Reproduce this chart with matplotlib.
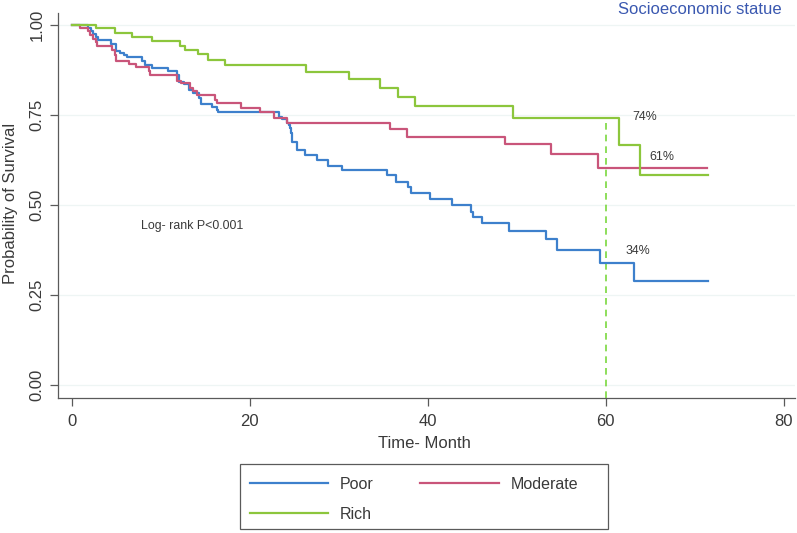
import matplotlib
matplotlib.use("Agg")
import matplotlib.pyplot as plt
from matplotlib.patches import Rectangle

plt.rcParams['font.family'] = ['Liberation Sans', 'DejaVu Sans']

# ---- data (Kaplan-Meier steps) ----
groups = ["Poor", "Moderate", "Rich"]

poor_t = [0, 1.9, 2.2, 2.4, 2.7, 3.0, 4.4, 5.0, 5.5, 5.85, 6.2, 7.9, 8.3, 9.0, 10.8,
          11.85, 12.1, 12.6, 13.2, 13.7, 14.3, 14.5, 15.8, 16.35, 16.5, 23.3, 23.6,
          24.2, 24.4, 24.5, 24.7, 24.8, 25.35, 26.2, 27.6, 28.85, 30.35, 35.45, 36.45,
          37.8, 38.1, 40.3, 42.75, 44.85, 45.1, 46.1, 49.1, 53.35, 54.6, 59.4, 63.2, 71.5]
poor_s = [1.0, 0.993, 0.984, 0.975, 0.966, 0.957, 0.947, 0.927, 0.922, 0.916, 0.910,
          0.899, 0.890, 0.881, 0.871, 0.862, 0.843, 0.836, 0.820, 0.811, 0.797, 0.781,
          0.771, 0.765, 0.757, 0.745, 0.739, 0.727, 0.722, 0.713, 0.699, 0.676, 0.653,
          0.639, 0.625, 0.609, 0.596, 0.583, 0.565, 0.551, 0.532, 0.518, 0.500, 0.481,
          0.467, 0.449, 0.429, 0.406, 0.375, 0.338, 0.290, 0.290]

mod_t = [0, 1.0, 1.85, 2.1, 2.4, 2.7, 2.9, 4.5, 4.85, 5.0, 6.5, 7.2, 8.7, 8.85, 11.9,
         12.3, 13.3, 13.7, 14.1, 16.1, 16.35, 19.1, 21.2, 22.8, 24.2, 35.8, 37.65,
         48.75, 53.9, 59.1, 71.4]
mod_s = [1.0, 0.992, 0.984, 0.973, 0.962, 0.953, 0.941, 0.931, 0.918, 0.901, 0.892,
         0.882, 0.871, 0.860, 0.845, 0.839, 0.825, 0.816, 0.805, 0.792, 0.782, 0.769,
         0.757, 0.743, 0.728, 0.710, 0.690, 0.669, 0.642, 0.602, 0.602]

rich_t = [0, 2.75, 4.9, 6.8, 9.0, 12.2, 12.75, 14.2, 15.3, 17.3, 26.3, 31.2, 34.65,
          36.7, 38.6, 49.6, 61.5, 63.9, 71.5]
rich_s = [1.0, 0.991, 0.979, 0.968, 0.956, 0.943, 0.931, 0.919, 0.903, 0.889, 0.870,
          0.849, 0.826, 0.801, 0.775, 0.741, 0.667, 0.583, 0.583]

mark_time = 60
mark_labels = ["34%", "61%", "74%"]
mark_pos = [(62.2, 0.373), (64.9, 0.632), (63.0, 0.745)]

xticks = [0, 20, 40, 60, 80]
yticks = [0.00, 0.25, 0.50, 0.75, 1.00]
yticklabels = ["0.00", "0.25", "0.50", "0.75", "1.00"]

colors = ["#3d80cc", "#c9557a", "#8cc63c"]
dash_color = "#7ad83e"
title_color = "#3a58b0"
text_color = "#3a3a3a"
axis_color = "#5a5a5a"

W, H = 797, 533
fig = plt.figure(figsize=(W / 100, H / 100), dpi=100)
ax = fig.add_axes([58 / W, 1 - 398 / H, (795 - 58) / W, (398 - 13) / H])

ax.set_xlim(-1.517, 81.29)
ax.set_ylim(-0.0361, 1.0333)

for y in yticks:
    ax.axhline(y, color="#eef5f4", lw=0.9, zorder=0)

series = [(poor_t, poor_s), (mod_t, mod_s), (rich_t, rich_s)]
handles = []
for (t, s), c, g in zip(series, colors, groups):
    ln, = ax.step(t, s, where="post", color=c, lw=1.6, label=g, zorder=3)
    handles.append(ln)

ax.vlines(mark_time, ax.get_ylim()[0], rich_s[rich_t.index(49.6)], colors=dash_color,
          linestyles=(0, (4, 3)), lw=1.2, zorder=2)

for lab, (tx, ty) in zip(mark_labels, mark_pos):
    ax.text(tx, ty, lab, ha="left", va="center", fontsize=8.9, color=text_color)

ax.text(7.78, 0.442, "Log- rank P<0.001", ha="left", va="center", fontsize=8.9,
        color=text_color)

for sp in ["top", "right"]:
    ax.spines[sp].set_visible(False)
for sp in ["left", "bottom"]:
    ax.spines[sp].set_color(axis_color)
    ax.spines[sp].set_linewidth(0.9)

ax.set_xticks(xticks)
ax.set_yticks(yticks)
ax.set_yticklabels(yticklabels)
ax.tick_params(axis="both", direction="out", length=5.5, width=0.9, color=axis_color,
               labelsize=12, labelcolor=text_color)
ax.tick_params(axis="x", pad=6)
ax.tick_params(axis="y", pad=4.0, labelrotation=90)
for lbl in ax.get_yticklabels():
    lbl.set_va("center")

ax.set_xlabel("Time- Month", fontsize=12, color=text_color, va="center")
ax.xaxis.set_label_coords((424 - 58) / (795 - 58), -(443 - 398) / (398 - 13))
ax.set_ylabel("Probability of Survival", fontsize=12, color=text_color, va="center")
ax.yaxis.set_label_coords((10 - 58) / (795 - 58), (398 - 203) / (398 - 13))

fig.text(782 / W, 1 - 10 / H, "Socioeconomic statue", ha="right", va="center",
         fontsize=12, color=title_color)

# legend frame + legend
fig.patches.append(Rectangle((240 / W, 1 - 529 / H), 368 / W, 65 / H,
                             transform=fig.transFigure, facecolor="white",
                             edgecolor=axis_color, lw=0.9, zorder=1))
leg = fig.legend([handles[0], handles[2], handles[1]], [groups[0], groups[2], groups[1]],
                 ncol=2, loc="upper left", bbox_to_anchor=(250 / W, 1 - 477 / H),
                 bbox_transform=fig.transFigure, frameon=False, borderpad=0,
                 borderaxespad=0, handlelength=4.9, handletextpad=0.75,
                 columnspacing=2.9, labelspacing=0.92, fontsize=11.5)
for txt in leg.get_texts():
    txt.set_color(text_color)

fig.savefig("out.png", dpi=100)
